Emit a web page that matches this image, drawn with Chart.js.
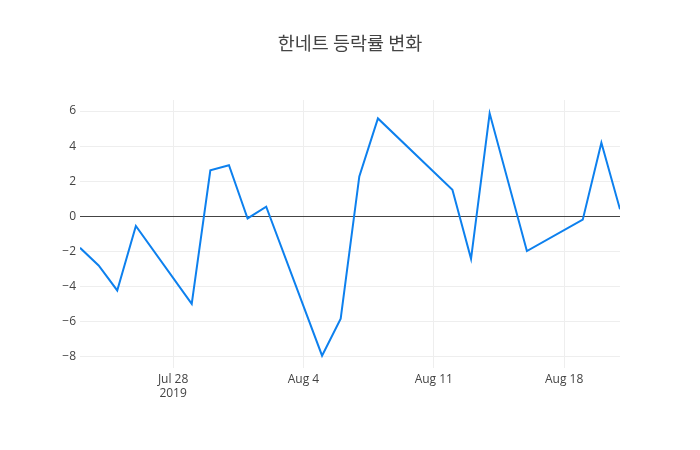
<!DOCTYPE html>
<html>
<head>
<meta charset="utf-8">
<script src="https://cdn.jsdelivr.net/npm/chart.js@4.4.1/dist/chart.umd.min.js"></script>
<style>
    html, body { margin: 0; padding: 0; background: #fff; }
    #wrap { width: 700px; height: 450px; }
</style>
</head>
<body>
<div id="wrap"><canvas id="rateChart"></canvas></div>
<script>
let title_text = "한네트 등락률 변화"

// trading days (Aug 15 is a holiday)
let dates = [
    "2019-07-23", "2019-07-24", "2019-07-25", "2019-07-26",
    "2019-07-29", "2019-07-30", "2019-07-31", "2019-08-01", "2019-08-02",
    "2019-08-05", "2019-08-06", "2019-08-07", "2019-08-08",
    "2019-08-12", "2019-08-13", "2019-08-14", "2019-08-16",
    "2019-08-19", "2019-08-20", "2019-08-21"
]
let rates = [
    -1.79, -2.8, -4.22, -0.55,
    -4.98, 2.62, 2.91, -0.12, 0.55,
    -7.94, -5.83, 2.28, 5.58,
    1.52, -2.42, 5.87, -1.98,
    -0.19, 4.19, 0.4
]

let x_tick_dates = ["2019-07-28", "2019-08-04", "2019-08-11", "2019-08-18"]
let x_tick_labels = [["Jul 28", "2019"], "Aug 4", "Aug 11", "Aug 18"]
let y_ticks = [-8, -6, -4, -2, 0, 2, 4, 6]

const start_day = Date.UTC(2019, 6, 23)
const dayNum = (s) => (Date.parse(s + "T00:00:00Z") - start_day) / 86400000

let points = dates.map((d, i) => ({ x: dayNum(d), y: rates[i] }))
let x_ticks = x_tick_dates.map(dayNum)

// title centred on the whole canvas, not on the plot box
const pageTitle = {
    id: 'pageTitle',
    afterDraw(chart) {
        const c = chart.ctx
        c.save()
        c.fillStyle = '#444'
        c.font = "18.5px 'Noto Sans CJK KR', 'Open Sans', sans-serif"
        c.textAlign = 'center'
        c.textBaseline = 'middle'
        c.fillText(title_text, chart.width / 2, 43)
        c.restore()
    }
}

const ctx = document.getElementById('rateChart').getContext('2d')

new Chart(ctx, {
    type: 'line',
    data: {
        datasets: [{
            data: points,
            borderColor: '#0d80ee',
            borderWidth: 2,
            pointRadius: 0,
            tension: 0,
            fill: false
        }]
    },
    options: {
        responsive: true,
        maintainAspectRatio: false,
        animation: false,
        layout: {
            padding: { left: 0, right: 80, top: 100, bottom: 0 }
        },
        plugins: {
            legend: { display: false },
            tooltip: { enabled: false },
            title: { display: false }
        },
        scales: {
            x: {
                type: 'linear',
                min: 0,
                max: dayNum("2019-08-21"),
                afterBuildTicks: (scale) => {
                    scale.ticks = x_ticks.map(v => ({ value: v }))
                },
                afterFit: (scale) => { scale.height = 82 },
                ticks: {
                    autoSkip: false,
                    maxRotation: 0,
                    padding: 4,
                    color: '#444',
                    font: { family: "'Open Sans', sans-serif", size: 12 },
                    callback: (value) => x_tick_labels[x_ticks.indexOf(value)]
                },
                grid: { color: '#eeeeee', drawTicks: false },
                border: { display: false }
            },
            y: {
                min: -8.64,
                max: 6.63,
                afterBuildTicks: (scale) => {
                    scale.ticks = y_ticks.map(v => ({ value: v }))
                },
                afterFit: (scale) => { scale.width = 80 },
                ticks: {
                    padding: 4,
                    color: '#444',
                    font: { family: "'Open Sans', sans-serif", size: 12 },
                    callback: (value) => String(value).replace("-", "\u2212")
                },
                grid: {
                    color: (c) => c.tick && c.tick.value === 0 ? '#444444' : '#eeeeee',
                    lineWidth: 1,
                    drawTicks: false
                },
                border: { display: false }
            }
        }
    },
    plugins: [pageTitle]
})
</script>
</body>
</html>
